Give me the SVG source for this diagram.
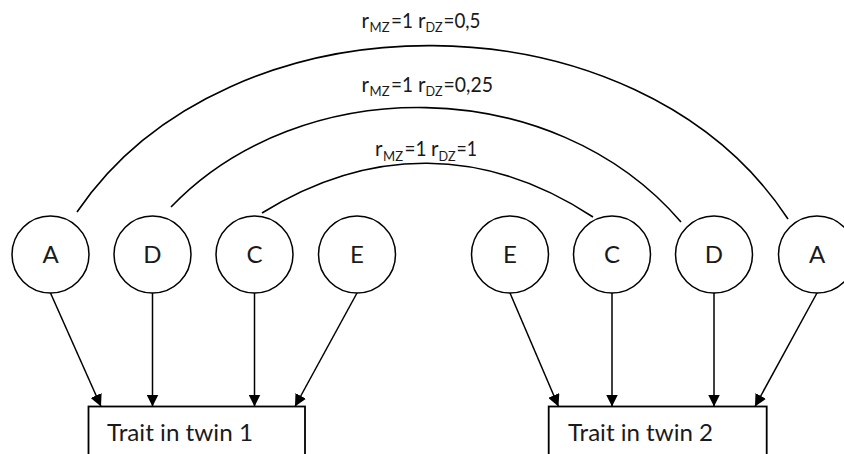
<svg xmlns="http://www.w3.org/2000/svg" width="844" height="454" viewBox="0 0 844 454">
  <defs>
    <style>
      .node circle { fill: #fff; stroke: #000; stroke-width: 1.5; }
      .node text { font-family: Lato, "Open Sans", "Liberation Sans", sans-serif; font-size: 24px; fill: #1a1a1a; text-anchor: middle; }
      .box rect { fill: #fff; stroke: #000; stroke-width: 1.8; }
      .box text { font-family: Lato, "Open Sans", "Liberation Sans", sans-serif; font-size: 24px; fill: #1a1a1a; }
      .arrow { stroke: #000; stroke-width: 1.5; fill: none; marker-end: url(#ah); }
      .arc { stroke: #000; stroke-width: 1.6; fill: none; }
      .lbl { font-family: Lato, "Open Sans", "Liberation Sans", sans-serif; font-size: 20.5px; fill: #1a1a1a; }
      .sub { font-size: 14px; }
    </style>
    <marker id="ah" markerUnits="userSpaceOnUse" markerWidth="12" markerHeight="12" refX="12" refY="6" orient="auto">
      <path d="M0,0 L12,6 L0,12 Z" fill="#000"/>
    </marker>
  </defs>

  <g id="connectors">
    <path class="arc" d="M77,212 C228,-11 637,-11 788,219"/>
    <path class="arc" d="M171,207 C300,72 552,72 681,222"/>
    <path class="arc" d="M262,213 C370,146 485,146 593,217"/>
    <line class="arrow" x1="50.5" y1="293" x2="101" y2="406.5"/>
    <line class="arrow" x1="152.5" y1="293" x2="152.5" y2="406.5"/>
    <line class="arrow" x1="254.5" y1="293" x2="254.5" y2="406.5"/>
    <line class="arrow" x1="357" y1="293" x2="295" y2="406.5"/>
    <line class="arrow" x1="510" y1="293" x2="558.5" y2="406.5"/>
    <line class="arrow" x1="612" y1="293" x2="612" y2="406.5"/>
    <line class="arrow" x1="714" y1="293" x2="714" y2="406.5"/>
    <line class="arrow" x1="817" y1="293" x2="755" y2="406.5"/>
  </g>

  <g id="labels">
    <text class="lbl" y="27.5"><tspan x="361.5">r</tspan><tspan class="sub" x="369.5" y="32" textLength="20" lengthAdjust="spacingAndGlyphs">MZ</tspan><tspan x="391" y="27.5" textLength="22" lengthAdjust="spacingAndGlyphs">=1</tspan><tspan x="418">r</tspan><tspan class="sub" x="425.5" y="32" textLength="17" lengthAdjust="spacingAndGlyphs">DZ</tspan><tspan x="443.5" y="27.5" textLength="37" lengthAdjust="spacingAndGlyphs">=0,5</tspan></text>
    <text class="lbl" y="91.5"><tspan x="361.5">r</tspan><tspan class="sub" x="369.5" y="96" textLength="20" lengthAdjust="spacingAndGlyphs">MZ</tspan><tspan x="391" y="91.5" textLength="22" lengthAdjust="spacingAndGlyphs">=1</tspan><tspan x="418">r</tspan><tspan class="sub" x="425.5" y="96" textLength="17" lengthAdjust="spacingAndGlyphs">DZ</tspan><tspan x="443.5" y="91.5" textLength="49.5" lengthAdjust="spacingAndGlyphs">=0,25</tspan></text>
    <text class="lbl" y="156"><tspan x="375">r</tspan><tspan class="sub" x="383" y="160.5" textLength="20" lengthAdjust="spacingAndGlyphs">MZ</tspan><tspan x="404.5" y="156" textLength="22" lengthAdjust="spacingAndGlyphs">=1</tspan><tspan x="431">r</tspan><tspan class="sub" x="438.5" y="160.5" textLength="17" lengthAdjust="spacingAndGlyphs">DZ</tspan><tspan x="456.5" y="156" textLength="20.5" lengthAdjust="spacingAndGlyphs">=1</tspan></text>
  </g>

  <g id="A1" class="node"><circle cx="50.5" cy="254.5" r="38.5"/><text x="50.5" y="263">A</text></g>
  <g id="D1" class="node"><circle cx="152.5" cy="254.5" r="38.5"/><text x="152.5" y="263">D</text></g>
  <g id="C1" class="node"><circle cx="254.5" cy="254.5" r="38.5"/><text x="254.5" y="263">C</text></g>
  <g id="E1" class="node"><circle cx="357" cy="254.5" r="38.5"/><text x="357" y="263">E</text></g>
  <g id="E2" class="node"><circle cx="510" cy="254.5" r="38.5"/><text x="510" y="263">E</text></g>
  <g id="C2" class="node"><circle cx="612" cy="254.5" r="38.5"/><text x="612" y="263">C</text></g>
  <g id="D2" class="node"><circle cx="714" cy="254.5" r="38.5"/><text x="714" y="263">D</text></g>
  <g id="A2" class="node"><circle cx="817" cy="254.5" r="38.5"/><text x="817" y="263">A</text></g>

  <g id="trait1" class="box"><rect x="88.5" y="406.5" width="216.5" height="60"/><text x="107" y="441" textLength="146" lengthAdjust="spacingAndGlyphs">Trait in twin 1</text></g>
  <g id="trait2" class="box"><rect x="548.7" y="406.5" width="218" height="60"/><text x="568" y="441" textLength="145" lengthAdjust="spacingAndGlyphs">Trait in twin 2</text></g>
</svg>
